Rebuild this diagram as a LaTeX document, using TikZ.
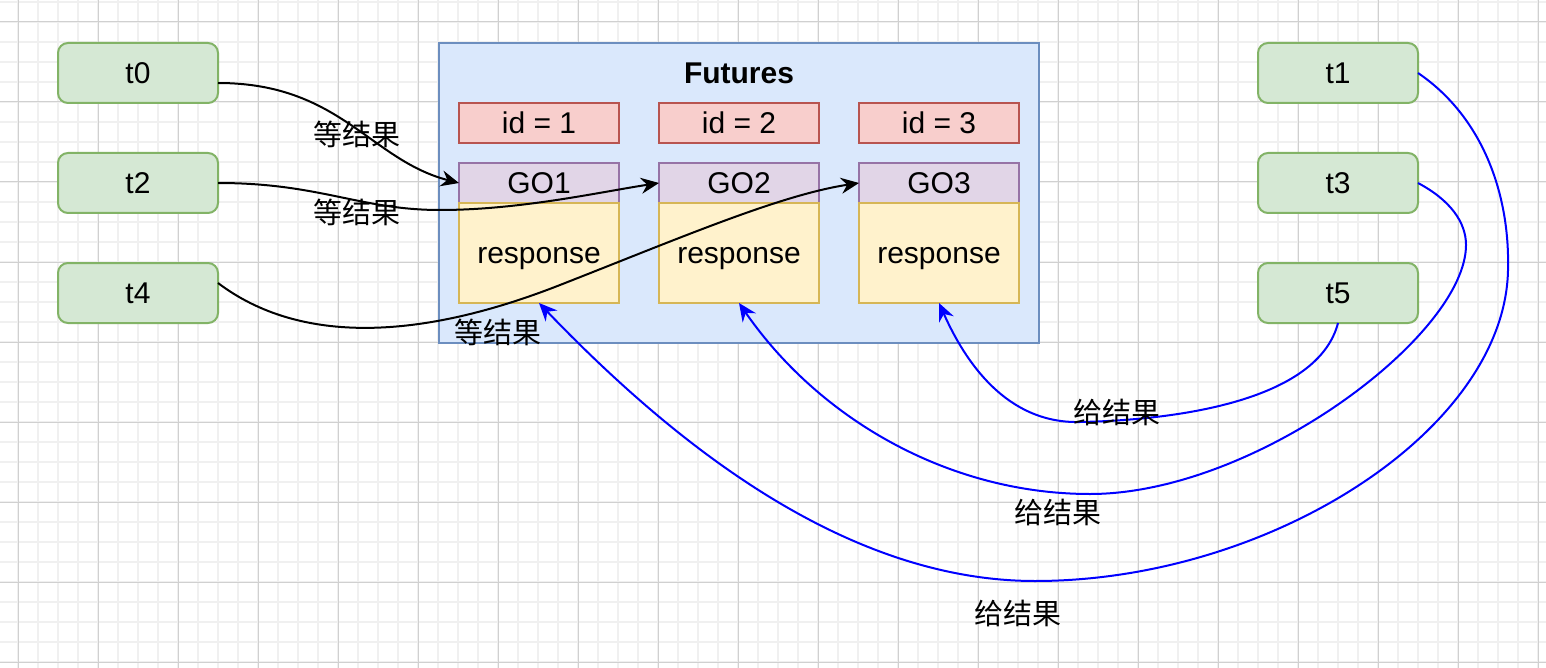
\documentclass[tikz,border=0pt]{standalone}
\usepackage{fontspec}
\setmainfont{Liberation Sans}
\newfontfamily\cjk{Noto Sans CJK SC}
\usepackage{tikz}
\usetikzlibrary{arrows.meta,positioning}

\definecolor{threadfill}{HTML}{D5E8D4}
\definecolor{threadline}{HTML}{82B366}
\definecolor{idfill}{HTML}{F8CECC}
\definecolor{idline}{HTML}{B85450}
\definecolor{gofill}{HTML}{E1D5E7}
\definecolor{goline}{HTML}{9673A6}
\definecolor{respfill}{HTML}{FFF2CC}
\definecolor{respline}{HTML}{D6B656}
\definecolor{futfill}{HTML}{DAE8FC}
\definecolor{futline}{HTML}{6C8EBF}
\definecolor{gridmajor}{HTML}{D0D0D0}
\definecolor{gridminor}{HTML}{F0F0F0}

\tikzset{
  box/.style={line width=1pt, inner sep=0pt, outer sep=0pt,
              text height=10.8pt, text depth=0pt, minimum width=80pt},
  thread/.style={box, draw=threadline, fill=threadfill, rounded corners=5pt,
                 minimum height=30pt},
  idbox/.style={box, draw=idline, fill=idfill, minimum height=20pt},
  gobox/.style={box, draw=goline, fill=gofill, minimum height=20pt},
  respbox/.style={box, draw=respline, fill=respfill, minimum height=50pt},
  futbox/.style={draw=futline, fill=futfill, line width=1pt,
                 minimum width=300pt, minimum height=150pt, inner sep=0pt, outer sep=0pt},
  lbl/.style={font=\cjk\fontsize{14.5pt}{17pt}\selectfont, text=black, inner sep=0pt},
  waitline/.style={-{Stealth[length=9pt,width=8pt,inset=3pt]}, line width=1pt, black},
  giveline/.style={-{Stealth[length=9pt,width=8pt,inset=3pt]}, line width=1pt, blue},
  minorgrid/.style={gridminor, line width=0.6pt},
  majorgrid/.style={gridmajor, line width=0.5pt},
}

\begin{document}
\begin{tikzpicture}[x=0.5pt, y=-0.5pt, font=\fontsize{15pt}{18pt}\selectfont]

  % page and grid
  \fill[white] (0,0) rectangle (1546,668);
  \useasboundingbox (0,0) rectangle (1546,668);
  \foreach \gx in {18,38,...,1538} \draw[minorgrid] (\gx,0) -- (\gx,668);
  \foreach \gy in {2,22,...,662} \draw[minorgrid] (0,\gy) -- (1546,\gy);
  \foreach \gx in {18,98,...,1538} \draw[majorgrid] (\gx,0) -- (\gx,668);
  \foreach \gy in {22,102,...,662} \draw[majorgrid] (0,\gy) -- (1546,\gy);

  % threads
  \node[thread] (t0) at (138,73)       {t0};
  \node[thread] (t2) [below=25pt of t0] {t2};
  \node[thread] (t4) [below=25pt of t2] {t4};
  \node[thread] (t1) at (1338,73)      {t1};
  \node[thread] (t3) [below=25pt of t1] {t3};
  \node[thread] (t5) [below=25pt of t3] {t5};

  % futures
  \node[futbox] (fut) at (739,193) {};
  \node[font=\fontsize{15pt}{18pt}\selectfont\bfseries, text height=10.8pt, text depth=0pt]
        (title) at (739,73) {Futures};

  \node[idbox]   (id1) at (539,123)          {id = 1};
  \node[idbox]   (id2) [right=20pt of id1]  {id = 2};
  \node[idbox]   (id3) [right=20pt of id2]  {id = 3};
  \node[gobox]   (go1) [below=10pt of id1]  {GO1};
  \node[gobox]   (go2) [below=10pt of id2]  {GO2};
  \node[gobox]   (go3) [below=10pt of id3]  {GO3};
  \node[respbox] (resp1) [below=0pt of go1] {response};
  \node[respbox] (resp2) [below=0pt of go2] {response};
  \node[respbox] (resp3) [below=0pt of go3] {response};

  % waiting
  \draw[waitline] ([yshift=-5pt]t0.east) .. controls (340,83) and (370,160) ..
        node[lbl,pos=0.5,xshift=3pt,yshift=-5pt] (l0) {等结果} (go1.west);
  \draw[waitline] (t2.east) .. controls (320,183) and (360,210) ..
        node[lbl,pos=0.6,yshift=-6pt] (l2) {等结果} (440,210)
        .. controls (520,210) and (600,192) .. (go2.west);
  \draw[waitline] ([yshift=5pt]t4.east) .. controls (300,345) and (420,340) ..
        node[lbl,pos=0.85,yshift=-13pt] (l4) {等结果} (560,285)
        .. controls (680,238) and (780,195) .. (go3.west);

  % giving
  \draw[giveline] (t5.south) .. controls (1318,400) and (1180,420) ..
        node[lbl,pos=0.88,yshift=4pt] (l5) {给结果} (1080,422)
        .. controls (1000,424) and (960,350) .. (resp3.south);
  \draw[giveline] (t3.east) .. controls (1450,200) and (1466,222) .. (1466,245)
        .. controls (1466,335) and (1255,494) .. (1090,494)
        .. controls (950,494) and (820,420) ..
        node[lbl,pos=0.1,xshift=5pt,yshift=-10.5pt] (l3) {给结果} (resp2.south);
  \draw[giveline] (t1.east) .. controls (1480,115) and (1510,190) .. (1508,270)
        .. controls (1505,430) and (1270,581) .. (1035,581)
        .. controls (850,581) and (680,450) ..
        node[lbl,pos=0.05,xshift=5.5pt,yshift=-16.5pt] (l1) {给结果} (resp1.south);

\end{tikzpicture}
\end{document}
